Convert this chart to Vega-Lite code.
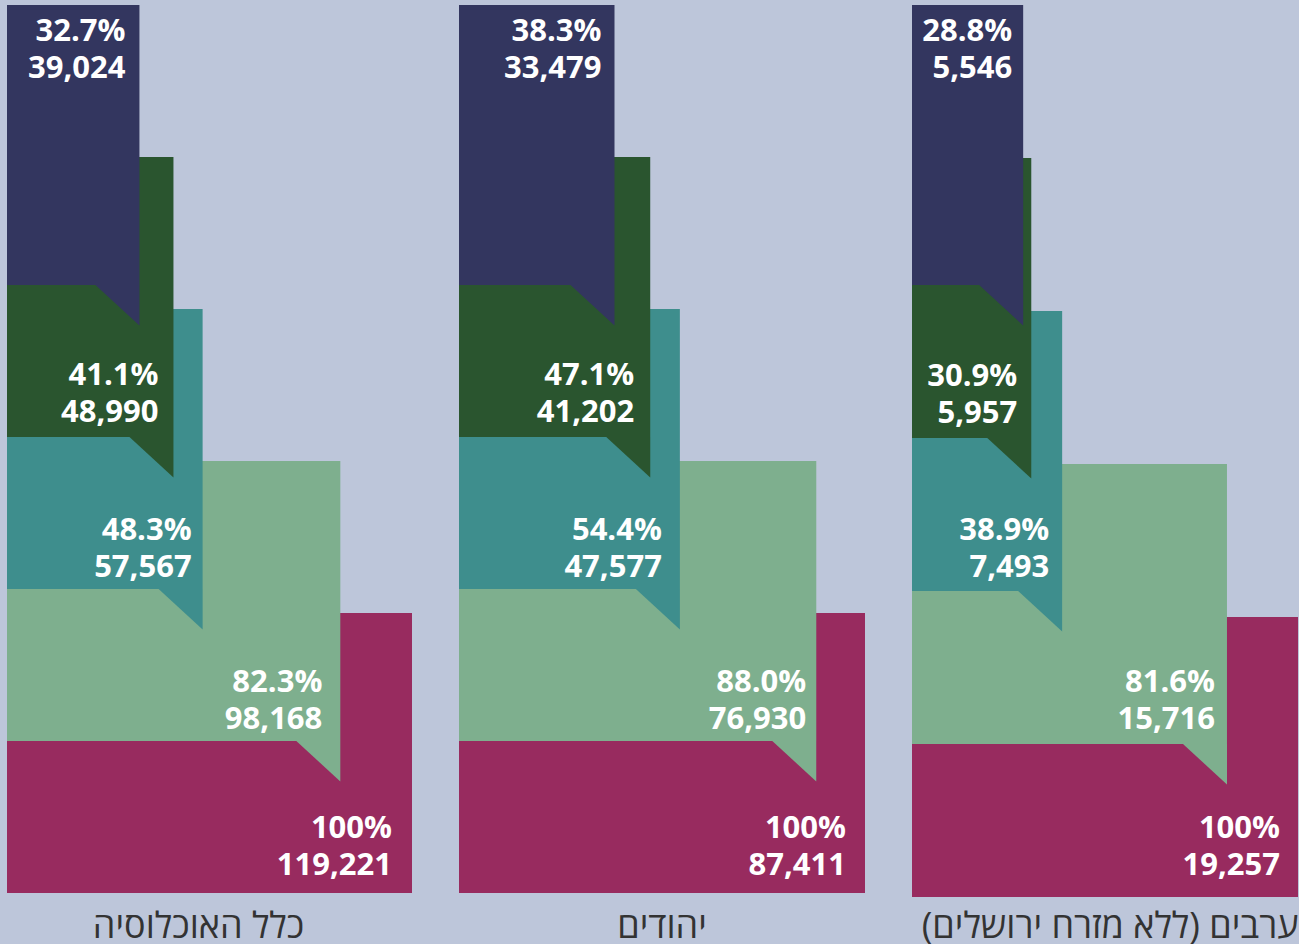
{
  "$schema": "https://vega.github.io/schema/vega-lite/v6.json",
  "background": "#BDC6DA",
  "padding": {"left": 7, "top": 5, "right": 0, "bottom": 0},
  "config": {
    "view": {"stroke": null},
    "title": {"font": "Open Sans", "fontSize": 36, "fontWeight": "normal", "color": "#333333", "orient": "bottom", "anchor": "middle", "offset": 17},
    "text": {"font": "Open Sans", "fontWeight": "bold", "fontSize": 31, "color": "#FFFFFF", "align": "right", "baseline": "middle"}
  },
  "data": {
    "values": [
      {"group": "all", "level": 4, "pct": 100, "pctText": "100%", "count": 119221},
      {"group": "all", "level": 3, "pct": 82.3, "pctText": "82.3%", "count": 98168},
      {"group": "all", "level": 2, "pct": 48.3, "pctText": "48.3%", "count": 57567},
      {"group": "all", "level": 1, "pct": 41.1, "pctText": "41.1%", "count": 48990},
      {"group": "all", "level": 0, "pct": 32.7, "pctText": "32.7%", "count": 39024},
      {"group": "jews", "level": 4, "pct": 100, "pctText": "100%", "count": 87411},
      {"group": "jews", "level": 3, "pct": 88.0, "pctText": "88.0%", "count": 76930},
      {"group": "jews", "level": 2, "pct": 54.4, "pctText": "54.4%", "count": 47577},
      {"group": "jews", "level": 1, "pct": 47.1, "pctText": "47.1%", "count": 41202},
      {"group": "jews", "level": 0, "pct": 38.3, "pctText": "38.3%", "count": 33479},
      {"group": "arabs", "level": 4, "pct": 100, "pctText": "100%", "count": 19257},
      {"group": "arabs", "level": 3, "pct": 81.6, "pctText": "81.6%", "count": 15716},
      {"group": "arabs", "level": 2, "pct": 38.9, "pctText": "38.9%", "count": 7493},
      {"group": "arabs", "level": 1, "pct": 30.9, "pctText": "30.9%", "count": 5957},
      {"group": "arabs", "level": 0, "pct": 28.8, "pctText": "28.8%", "count": 5546}
    ]
  },
  "spacing": 47,
  "hconcat": [
    {
      "width": 405, "height": 888,
      "title": {"text": "כלל האוכלוסיה", "dx": -11},
      "transform": [{"filter": "datum.group === 'all'"}],
      "encoding": {
        "x": {"field": "pct", "type": "quantitative", "stack": null, "scale": {"domain": [0, 100], "nice": false, "zero": true, "padding": 0}, "axis": null},
        "y": {"field": "level", "type": "quantitative", "scale": {"domain": [0, 4], "range": [140, 748], "nice": false, "zero": false, "padding": 0}, "axis": null}
      },
      "layer": [
        {"mark": {"type": "bar", "orient": "horizontal", "size": 280},
         "encoding": {"color": {"field": "level", "type": "nominal", "scale": {"domain": [0, 1, 2, 3, 4], "range": ["#33365F", "#2A552F", "#3E8E8D", "#7EAF8E", "#982B5F"]}, "legend": null}}},
        {"transform": [{"filter": "datum.level < 4"}],
         "mark": {"type": "point", "shape": "M-1,0L0,0L0,0.92Z", "size": 7744, "filled": true, "opacity": 1, "strokeWidth": 0, "yOffset": 140},
         "encoding": {"color": {"field": "level", "type": "nominal", "legend": null}}},
        {"transform": [{"filter": "datum.level === 0"}], "mark": {"type": "text", "dx": -14, "dy": -113}, "encoding": {"text": {"field": "pctText"}}},
        {"transform": [{"filter": "datum.level === 0"}], "mark": {"type": "text", "dx": -14, "dy": -76}, "encoding": {"text": {"field": "count", "type": "quantitative", "format": ","}}},
        {"transform": [{"filter": "datum.level === 1"}], "mark": {"type": "text", "dx": -15, "dy": 79}, "encoding": {"text": {"field": "pctText"}}},
        {"transform": [{"filter": "datum.level === 1"}], "mark": {"type": "text", "dx": -15, "dy": 116}, "encoding": {"text": {"field": "count", "type": "quantitative", "format": ","}}},
        {"transform": [{"filter": "datum.level === 2"}], "mark": {"type": "text", "dx": -11, "dy": 82}, "encoding": {"text": {"field": "pctText"}}},
        {"transform": [{"filter": "datum.level === 2"}], "mark": {"type": "text", "dx": -11, "dy": 119}, "encoding": {"text": {"field": "count", "type": "quantitative", "format": ","}}},
        {"transform": [{"filter": "datum.level === 3"}], "mark": {"type": "text", "dx": -18, "dy": 82}, "encoding": {"text": {"field": "pctText"}}},
        {"transform": [{"filter": "datum.level === 3"}], "mark": {"type": "text", "dx": -18, "dy": 119}, "encoding": {"text": {"field": "count", "type": "quantitative", "format": ","}}},
        {"transform": [{"filter": "datum.level === 4"}], "mark": {"type": "text", "dx": -20, "dy": 76}, "encoding": {"text": {"field": "pctText"}}},
        {"transform": [{"filter": "datum.level === 4"}], "mark": {"type": "text", "dx": -20, "dy": 113}, "encoding": {"text": {"field": "count", "type": "quantitative", "format": ","}}}
      ]
    },
    {
      "width": 406, "height": 888,
      "title": {"text": "יהודים"},
      "transform": [{"filter": "datum.group === 'jews'"}],
      "encoding": {
        "x": {"field": "pct", "type": "quantitative", "stack": null, "scale": {"domain": [0, 100], "nice": false, "zero": true, "padding": 0}, "axis": null},
        "y": {"field": "level", "type": "quantitative", "scale": {"domain": [0, 4], "range": [140, 748], "nice": false, "zero": false, "padding": 0}, "axis": null}
      },
      "layer": [
        {"mark": {"type": "bar", "orient": "horizontal", "size": 280},
         "encoding": {"color": {"field": "level", "type": "nominal", "legend": null}}},
        {"transform": [{"filter": "datum.level < 4"}],
         "mark": {"type": "point", "shape": "M-1,0L0,0L0,0.92Z", "size": 7744, "filled": true, "opacity": 1, "strokeWidth": 0, "yOffset": 140},
         "encoding": {"color": {"field": "level", "type": "nominal", "legend": null}}},
        {"transform": [{"filter": "datum.level === 0"}], "mark": {"type": "text", "dx": -13, "dy": -113}, "encoding": {"text": {"field": "pctText"}}},
        {"transform": [{"filter": "datum.level === 0"}], "mark": {"type": "text", "dx": -13, "dy": -76}, "encoding": {"text": {"field": "count", "type": "quantitative", "format": ","}}},
        {"transform": [{"filter": "datum.level === 1"}], "mark": {"type": "text", "dx": -16, "dy": 79}, "encoding": {"text": {"field": "pctText"}}},
        {"transform": [{"filter": "datum.level === 1"}], "mark": {"type": "text", "dx": -16, "dy": 116}, "encoding": {"text": {"field": "count", "type": "quantitative", "format": ","}}},
        {"transform": [{"filter": "datum.level === 2"}], "mark": {"type": "text", "dx": -18, "dy": 82}, "encoding": {"text": {"field": "pctText"}}},
        {"transform": [{"filter": "datum.level === 2"}], "mark": {"type": "text", "dx": -18, "dy": 119}, "encoding": {"text": {"field": "count", "type": "quantitative", "format": ","}}},
        {"transform": [{"filter": "datum.level === 3"}], "mark": {"type": "text", "dx": -10, "dy": 82}, "encoding": {"text": {"field": "pctText"}}},
        {"transform": [{"filter": "datum.level === 3"}], "mark": {"type": "text", "dx": -10, "dy": 119}, "encoding": {"text": {"field": "count", "type": "quantitative", "format": ","}}},
        {"transform": [{"filter": "datum.level === 4"}], "mark": {"type": "text", "dx": -19, "dy": 76}, "encoding": {"text": {"field": "pctText"}}},
        {"transform": [{"filter": "datum.level === 4"}], "mark": {"type": "text", "dx": -19, "dy": 113}, "encoding": {"text": {"field": "count", "type": "quantitative", "format": ","}}}
      ]
    },
    {
      "width": 386, "height": 892,
      "title": {"text": "ערבים (ללא מזרח ירושלים)\u200F", "offset": 13, "dx": 5},
      "transform": [{"filter": "datum.group === 'arabs'"}],
      "encoding": {
        "x": {"field": "pct", "type": "quantitative", "stack": null, "scale": {"domain": [0, 100], "nice": false, "zero": true, "padding": 0}, "axis": null},
        "y": {"field": "level", "type": "quantitative", "scale": {"domain": [0, 4], "range": [140, 752], "nice": false, "zero": false, "padding": 0}, "axis": null}
      },
      "layer": [
        {"mark": {"type": "bar", "orient": "horizontal", "size": 280},
         "encoding": {"color": {"field": "level", "type": "nominal", "legend": null}}},
        {"transform": [{"filter": "datum.level < 4"}],
         "mark": {"type": "point", "shape": "M-1,0L0,0L0,0.92Z", "size": 7744, "filled": true, "opacity": 1, "strokeWidth": 0, "yOffset": 140},
         "encoding": {"color": {"field": "level", "type": "nominal", "legend": null}}},
        {"transform": [{"filter": "datum.level === 0"}], "mark": {"type": "text", "dx": -11, "dy": -113}, "encoding": {"text": {"field": "pctText"}}},
        {"transform": [{"filter": "datum.level === 0"}], "mark": {"type": "text", "dx": -11, "dy": -76}, "encoding": {"text": {"field": "count", "type": "quantitative", "format": ","}}},
        {"transform": [{"filter": "datum.level === 1"}], "mark": {"type": "text", "dx": -14, "dy": 79}, "encoding": {"text": {"field": "pctText"}}},
        {"transform": [{"filter": "datum.level === 1"}], "mark": {"type": "text", "dx": -14, "dy": 116}, "encoding": {"text": {"field": "count", "type": "quantitative", "format": ","}}},
        {"transform": [{"filter": "datum.level === 2"}], "mark": {"type": "text", "dx": -13, "dy": 80}, "encoding": {"text": {"field": "pctText"}}},
        {"transform": [{"filter": "datum.level === 2"}], "mark": {"type": "text", "dx": -13, "dy": 117}, "encoding": {"text": {"field": "count", "type": "quantitative", "format": ","}}},
        {"transform": [{"filter": "datum.level === 3"}], "mark": {"type": "text", "dx": -12, "dy": 79}, "encoding": {"text": {"field": "pctText"}}},
        {"transform": [{"filter": "datum.level === 3"}], "mark": {"type": "text", "dx": -12, "dy": 116}, "encoding": {"text": {"field": "count", "type": "quantitative", "format": ","}}},
        {"transform": [{"filter": "datum.level === 4"}], "mark": {"type": "text", "dx": -18, "dy": 72}, "encoding": {"text": {"field": "pctText"}}},
        {"transform": [{"filter": "datum.level === 4"}], "mark": {"type": "text", "dx": -18, "dy": 109}, "encoding": {"text": {"field": "count", "type": "quantitative", "format": ","}}}
      ]
    }
  ]
}
